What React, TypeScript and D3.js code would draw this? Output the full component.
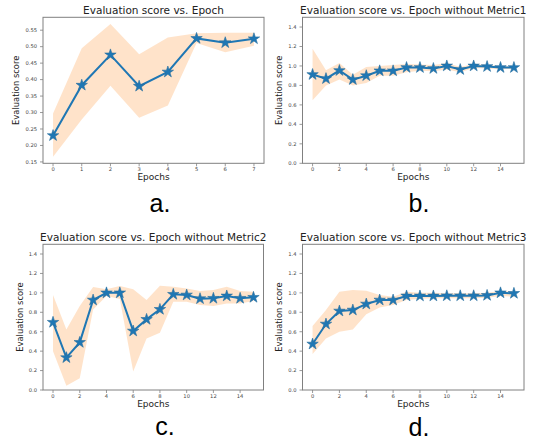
import React from "react";
import * as d3 from "d3";

const titles = [
  "Evaluation score vs. Epoch",
  "Evaluation score vs. Epoch without Metric1",
  "Evaluation score vs. Epoch without Metric2",
  "Evaluation score vs. Epoch without Metric3",
];
const letters = ["a.", "b.", "c.", "d."];

const aMean = [0.23, 0.383, 0.475, 0.38, 0.423, 0.525, 0.512, 0.524];
const aUpper = [0.297, 0.495, 0.569, 0.477, 0.528, 0.541, 0.542, 0.542];
const aLower = [0.166, 0.279, 0.381, 0.284, 0.321, 0.511, 0.483, 0.503];

const bMean = [0.912, 0.87, 0.953, 0.86, 0.9, 0.95, 0.95, 0.984, 0.984, 0.974, 1.0, 0.963, 1.0, 0.994, 0.984, 0.984];
const bUpper = [1.176, 0.956, 1.03, 0.91, 0.99, 1.0, 1.01, 1.02, 1.015, 1.01, 1.03, 0.99, 1.02, 1.01, 1.0, 0.995];
const bLower = [0.647, 0.8, 0.86, 0.8, 0.826, 0.9, 0.9, 0.935, 0.95, 0.945, 0.963, 0.935, 0.98, 0.975, 0.965, 0.97];

const cMean = [0.697, 0.333, 0.49, 0.926, 1.0, 1.0, 0.607, 0.727, 0.83, 0.985, 0.978, 0.94, 0.944, 0.968, 0.944, 0.954];
const cUpper = [0.978, 0.624, 0.865, 1.06, 1.036, 1.07, 1.036, 0.926, 1.074, 1.063, 1.046, 1.02, 1.03, 1.064, 1.02, 1.012];
const cLower = [0.4, 0.045, 0.12, 0.83, 0.968, 0.937, 0.19, 0.53, 0.59, 0.909, 0.909, 0.875, 0.865, 0.89, 0.89, 0.916];

const dMean = [0.473, 0.679, 0.813, 0.823, 0.885, 0.926, 0.926, 0.968, 0.968, 0.968, 0.97, 0.97, 0.97, 0.974, 1.0, 0.995];
const dUpper = [0.659, 0.823, 1.012, 1.03, 1.022, 0.978, 0.96, 1.012, 1.0, 1.0, 0.995, 0.995, 0.995, 1.0, 1.02, 1.01];
const dLower = [0.37, 0.53, 0.6, 0.624, 0.78, 0.85, 0.875, 0.926, 0.94, 0.945, 0.945, 0.945, 0.945, 0.95, 0.968, 0.96];

const aYTicks = [0.15, 0.2, 0.25, 0.3, 0.35, 0.4, 0.45, 0.5, 0.55];
const fullYTicks = [0, 0.2, 0.4, 0.6, 0.8, 1.0, 1.2, 1.4];
const aXTicks = [0, 1, 2, 3, 4, 5, 6, 7];
const fullXTicks = [0, 2, 4, 6, 8, 10, 12, 14];

const BLUE = "#1f77b4";
const FONT = "DejaVu Sans, sans-serif";

function starPath(cx: number, cy: number, R: number) {
  const r = R * 0.382;
  const pts: string[] = [];
  for (let i = 0; i < 10; i++) {
    const ang = -Math.PI / 2 + (i * Math.PI) / 5;
    const rr = i % 2 === 0 ? R : r;
    pts.push(`${(cx + rr * Math.cos(ang)).toFixed(2)},${(cy + rr * Math.sin(ang)).toFixed(2)}`);
  }
  return "M" + pts.join("L") + "Z";
}

type PanelProps = {
  box: { left: number; right: number; top: number; bottom: number };
  mean: number[];
  upper: number[];
  lower: number[];
  yDomain: [number, number];
  yTicks: number[];
  xTicks: number[];
  yFmt: (v: number) => string;
  title: string;
  letter: string;
  letterPos: [number, number];
  ylabelX: number;
};

function Panel(p: PanelProps) {
  const n = p.mean.length;
  const xm = (n - 1) * 0.05;
  const x = d3.scaleLinear().domain([-xm, n - 1 + xm]).range([p.box.left, p.box.right]);
  const y = d3.scaleLinear().domain(p.yDomain).range([p.box.bottom, p.box.top]);
  const idx = d3.range(n);
  const area = d3
    .area<number>()
    .x((i) => x(i))
    .y0((i) => y(p.lower[i]))
    .y1((i) => y(p.upper[i]));
  const line = d3
    .line<number>()
    .x((i) => x(i))
    .y((i) => y(p.mean[i]));
  const cx = (p.box.left + p.box.right) / 2;
  const cy = (p.box.top + p.box.bottom) / 2;
  return (
    <g>
      <path d={area(idx) || ""} fill="#ff7f0e" fillOpacity={0.22} />
      <path d={line(idx) || ""} fill="none" stroke={BLUE} strokeWidth={2} />
      {idx.map((i) => (
        <path key={i} d={starPath(x(i), y(p.mean[i]), 6)} fill={BLUE} stroke="#2a6f9e" strokeWidth={0.6} />
      ))}
      <rect
        x={p.box.left}
        y={p.box.top}
        width={p.box.right - p.box.left}
        height={p.box.bottom - p.box.top}
        fill="none"
        stroke="#808080"
        strokeWidth={1}
      />
      {p.yTicks.map((t) => (
        <g key={"y" + t}>
          <line x1={p.box.left - 3} x2={p.box.left} y1={y(t)} y2={y(t)} stroke="#808080" strokeWidth={0.8} />
          <text x={p.box.left - 6} y={y(t) + 1.8} fontSize={5.2} textAnchor="end" fill="#444" fontFamily={FONT}>
            {p.yFmt(t)}
          </text>
        </g>
      ))}
      {p.xTicks.map((t) => (
        <g key={"x" + t}>
          <line x1={x(t)} x2={x(t)} y1={p.box.bottom} y2={p.box.bottom + 3} stroke="#808080" strokeWidth={0.8} />
          <text x={x(t)} y={p.box.bottom + 7.6} fontSize={5.2} textAnchor="middle" fill="#444" fontFamily={FONT}>
            {t}
          </text>
        </g>
      ))}
      <text x={cx} y={p.box.top - 3} fontSize={10.5} textAnchor="middle" fill="#222" fontFamily={FONT}>
        {p.title}
      </text>
      <text x={cx} y={p.box.bottom + 17} fontSize={9} textAnchor="middle" fill="#222" fontFamily={FONT}>
        Epochs
      </text>
      <text
        transform={`translate(${p.ylabelX},${cy}) rotate(-90)`}
        fontSize={8.4}
        textAnchor="middle"
        fill="#222"
        fontFamily={FONT}
      >
        Evaluation score
      </text>
      <text
        x={p.letterPos[0]}
        y={p.letterPos[1]}
        fontSize={25}
        textAnchor="middle"
        fill="#000"
        fontFamily="Liberation Sans, Arial, sans-serif"
      >
        {p.letter}
      </text>
    </g>
  );
}

export default function App() {
  const aMin = d3.min(aLower) as number;
  const aMax = d3.max(aUpper) as number;
  const pad = (aMax - aMin) * 0.05;
  const f2 = d3.format(".2f");
  const f1 = d3.format(".1f");
  return (
    <svg
      width={534}
      height={440}
      style={{ position: "absolute", left: 0, top: 0, background: "#fff" }}
    >
      <rect width={534} height={440} fill="#fff" />
      <Panel
        box={{ left: 43, right: 264, top: 17.3, bottom: 163.3 }}
        mean={aMean}
        upper={aUpper}
        lower={aLower}
        yDomain={[aMin - pad, aMax + pad]}
        yTicks={aYTicks}
        xTicks={aXTicks}
        yFmt={f2}
        title={titles[0]}
        letter={letters[0]}
        letterPos={[160, 212]}
        ylabelX={18.5}
      />
      <Panel
        box={{ left: 302.5, right: 524, top: 17.3, bottom: 163.3 }}
        mean={bMean}
        upper={bUpper}
        lower={bLower}
        yDomain={[0, 1.5]}
        yTicks={fullYTicks}
        xTicks={fullXTicks}
        yFmt={f1}
        title={titles[1]}
        letter={letters[1]}
        letterPos={[419, 212]}
        ylabelX={282}
      />
      <Panel
        box={{ left: 43, right: 263.5, top: 244.3, bottom: 390 }}
        mean={cMean}
        upper={cUpper}
        lower={cLower}
        yDomain={[0, 1.5]}
        yTicks={fullYTicks}
        xTicks={fullXTicks}
        yFmt={f1}
        title={titles[2]}
        letter={letters[2]}
        letterPos={[165, 435]}
        ylabelX={22.5}
      />
      <Panel
        box={{ left: 302.5, right: 524, top: 244.3, bottom: 390 }}
        mean={dMean}
        upper={dUpper}
        lower={dLower}
        yDomain={[0, 1.5]}
        yTicks={fullYTicks}
        xTicks={fullXTicks}
        yFmt={f1}
        title={titles[3]}
        letter={letters[3]}
        letterPos={[419, 436]}
        ylabelX={282}
      />
    </svg>
  );
}
